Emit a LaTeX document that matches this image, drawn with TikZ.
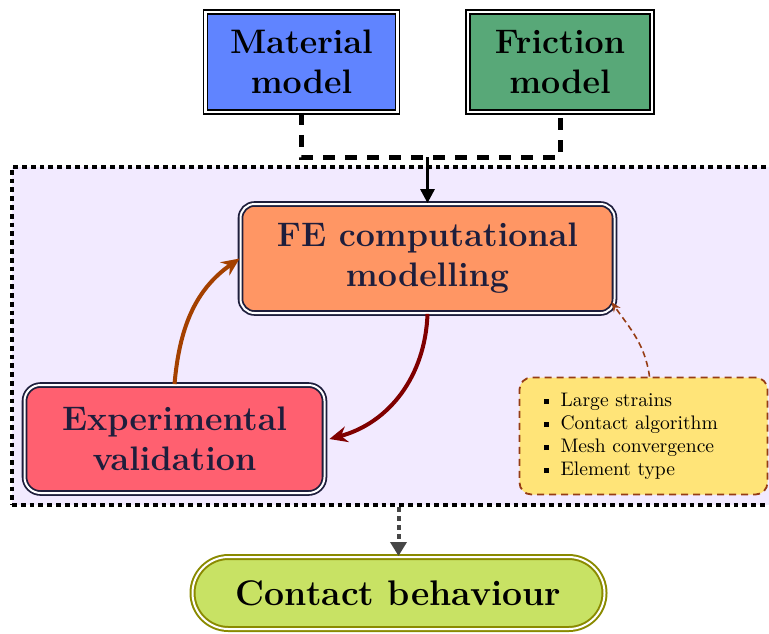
\documentclass[tikz,border=0pt]{standalone}
\usepackage{fontspec}
\usetikzlibrary{arrows.meta}
\definecolor{matblue}{RGB}{96,132,255}
\definecolor{fricgreen}{RGB}{88,168,120}
\definecolor{lav}{RGB}{242,234,255}
\definecolor{feorange}{RGB}{255,150,100}
\definecolor{expred}{RGB}{255,96,112}
\definecolor{noteyellow}{RGB}{255,228,120}
\definecolor{contgreen}{RGB}{200,226,100}
\definecolor{olive}{RGB}{138,138,0}
\definecolor{navy}{RGB}{30,30,60}
\definecolor{rust}{RGB}{164,64,0}
\definecolor{maroon}{RGB}{128,0,0}
\definecolor{notebrown}{RGB}{150,60,20}
\definecolor{darkgray}{RGB}{70,70,70}
\begin{document}
\begin{tikzpicture}[x=0.5pt,y=-0.5pt,
  bigtext/.style={align=center, font=\fontsize{17}{20}\selectfont\bfseries, inner sep=0pt},
  modelbox/.style={bigtext, draw=black, double=white, double distance=1.2pt,
    line width=0.8pt, minimum width=96pt, minimum height=50pt},
  roundbox/.style={bigtext, text=navy, draw=navy, double=white, double distance=1pt,
    line width=0.9pt, rounded corners=7pt},
  notebox/.style={draw=notebrown, line width=0.9pt, dash pattern=on 3.5pt off 2.5pt,
    rounded corners=6pt, fill=noteyellow, align=left, text width=100pt,
    inner xsep=12pt, minimum height=58.5pt, font=\fontsize{9.8}{11.5}\selectfont},
  conn/.style={line width=2.5pt, dash pattern=on 6pt off 5pt},
  mainarrow/.style={line width=1.5pt, -{Triangle[length=7pt,width=7pt]}},
  curvearrow/.style={line width=2pt, -{Stealth[length=9pt,width=8pt,inset=3pt]}},
]
\useasboundingbox (0,0) rectangle (769,633);

% dotted frame holding the modelling loop (runs past the right edge)
\node[draw=black, fill=lav, line width=2pt, dash pattern=on 2.4pt off 2pt,
  minimum width=390pt, minimum height=169pt, inner sep=0pt] (frame) at (402,336) {};

% model inputs
\node[modelbox, fill=matblue] (mat) at (301.5,62) {Material\\model};
\node[modelbox, fill=fricgreen, minimum width=92pt] (fric) at (560,62) {Friction\\model};

% central boxes
\node[roundbox, fill=feorange, minimum width=187pt, minimum height=54.5pt] (fe) at (427.5,258.5)
  {FE computational\\modelling};
\node[roundbox, fill=expred, minimum width=150pt, minimum height=54pt, rounded corners=8pt] (exp)
  at (174.5,439) {Experimental\\validation};

\node[notebox] (notes) at (643.5,436) {%
  \rule[0.25ex]{2.5pt}{2.5pt}\hspace{6pt}Large strains\\
  \rule[0.25ex]{2.5pt}{2.5pt}\hspace{6pt}Contact algorithm\\
  \rule[0.25ex]{2.5pt}{2.5pt}\hspace{6pt}Mesh convergence\\
  \rule[0.25ex]{2.5pt}{2.5pt}\hspace{6pt}Element type};

% result
\node[bigtext, font=\fontsize{17.8}{20}\selectfont\bfseries, draw=olive, double=white,
  double distance=1pt, line width=1pt, fill=contgreen, minimum width=206pt,
  minimum height=36pt, rounded corners=18pt]
  (contact) at (398.5,593) {Contact behaviour};

% joining line from the two models
\coordinate (jm) at (427.5,157);
\draw[conn] (mat.south) -- (mat.south |- jm) -- (fric.south |- jm) -- (fric.south);
\draw[mainarrow] (fe.north |- jm) -- (fe.north);

% validation loop
\draw[curvearrow, rust] (exp.north) to[out=85, in=215] (fe.west);
\draw[curvearrow, maroon] (fe.south) to[out=-92, in=15] ([xshift=2pt]exp.east);

% notes feeding the FE model
\draw[notebrown, line width=0.8pt, dash pattern=on 3pt off 2pt,
  -{Stealth[length=5pt,width=4pt]}]
  ([xshift=3pt]notes.north) to[out=98, in=-55] ([xshift=-2pt,yshift=6pt]fe.south east);

% output
\draw[darkgray, line width=2pt, dash pattern=on 2.5pt off 2pt,
  -{Triangle[length=7pt,width=8pt]}] (contact.north |- frame.south) -- (contact.north);
\end{tikzpicture}
\end{document}
